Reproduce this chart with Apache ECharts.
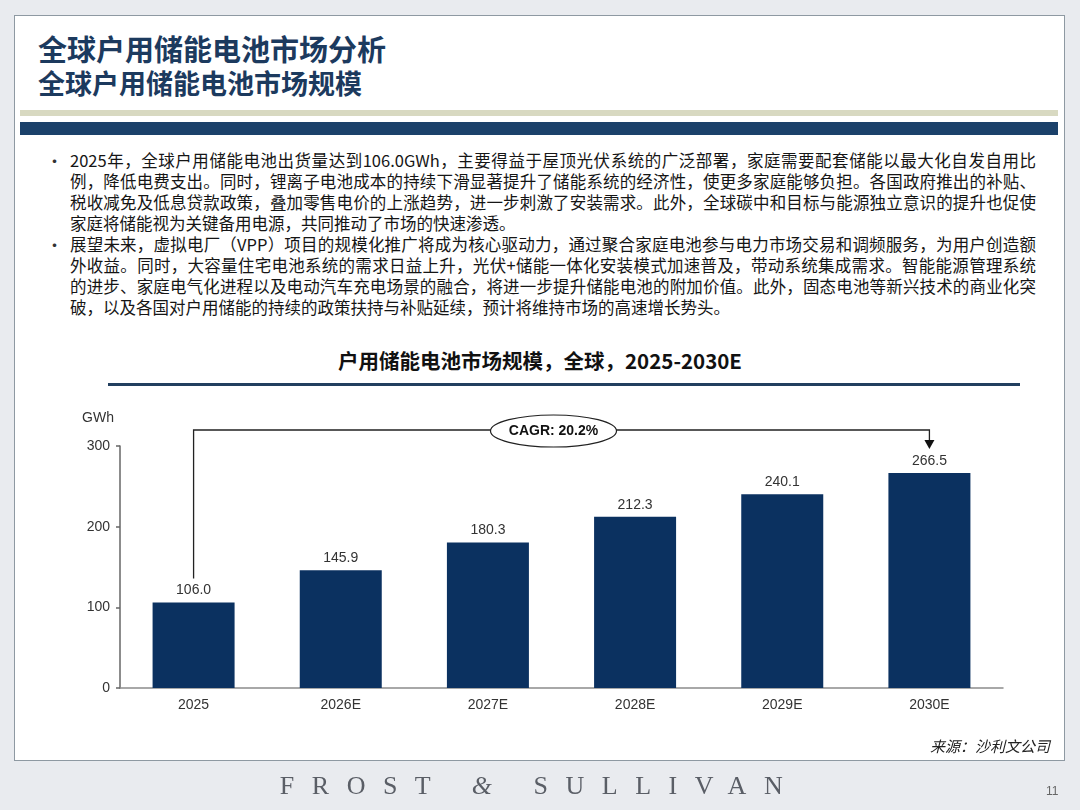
<!DOCTYPE html>
<html lang="zh-CN">

<head>
    <meta charset="UTF-8">
    <title>全球户用储能电池市场规模</title>
    <script src="https://cdn.jsdelivr.net/npm/echarts@6/dist/echarts.min.js"></script>
    <style>
        html, body {
            margin: 0;
            padding: 0;
        }
        body {
            width: 1080px;
            height: 810px;
            position: relative;
            overflow: hidden;
            background: #e9ebef;
            font-family: "Noto Sans CJK SC", sans-serif;
        }
        #panel {
            position: absolute;
            left: 14px;
            top: 15px;
            width: 1049px;
            height: 744px;
            background: #fff;
            border: 1px solid #8e99a2;
        }
        .title {
            position: absolute;
            left: 38px;
            color: #1c3a5e;
            font-weight: bold;
            white-space: nowrap;
        }
        .bar-beige {
            position: absolute;
            left: 20px;
            top: 110px;
            width: 1038px;
            height: 6px;
            background: #d8d9c1;
        }
        .bar-navy {
            position: absolute;
            left: 20px;
            top: 122px;
            width: 1038px;
            height: 13px;
            background: #1b416a;
        }
        .line {
            position: absolute;
            left: 70px;
            width: 966px;
            height: 21px;
            line-height: 21px;
            font-size: 16.5px;
            color: #151515;
            white-space: nowrap;
            text-align: justify;
            text-align-last: justify;
        }
        .line.last {
            text-align-last: left;
        }
        .bullet {
            position: absolute;
            left: 46px;
            font-size: 17px;
            line-height: 21px;
            color: #333;
        }
        #chart-title {
            position: absolute;
            left: 0;
            width: 1080px;
            top: 345px;
            text-align: center;
            font-size: 20.5px;
            font-weight: bold;
            color: #111;
        }
        #chart-rule {
            position: absolute;
            left: 108px;
            top: 383px;
            width: 912px;
            height: 3px;
            background: #223f5f;
        }
        #source {
            position: absolute;
            right: 30px;
            top: 735px;
            font-size: 15px;
            font-style: italic;
            color: #222;
        }
        #brand {
            position: absolute;
            left: 0;
            width: 1080px;
            top: 771px;
            text-align: center;
            font-family: "Liberation Serif", "DejaVu Serif", serif;
            font-size: 26px;
            letter-spacing: 17.5px;
            color: #5a5e66;
        }
        #brand .amp {
            font-style: italic;
        }
        #page-no {
            position: absolute;
            left: 1046px;
            top: 784px;
            font-family: "Liberation Sans", sans-serif;
            font-size: 12px;
            color: #666;
        }
        #chart-container {
            position: absolute;
            left: 0;
            top: 0;
            width: 1080px;
            height: 810px;
        }
    </style>
</head>

<body>

    <div id="panel"></div>

    <!-- Header -->
    <div class="title" style="top: 27px; font-size: 29px;">全球户用储能电池市场分析</div>
    <div class="title" style="top: 63px; font-size: 27px;">全球户用储能电池市场规模</div>
    <div class="bar-beige"></div>
    <div class="bar-navy"></div>

    <!-- Bullet text -->
    <div class="bullet" style="top: 150px;">•</div>
    <div class="line" style="top: 150px;">2025年，全球户用储能电池出货量达到106.0GWh，主要得益于屋顶光伏系统的广泛部署，家庭需要配套储能以最大化自发自用比</div>
    <div class="line" style="top: 171px;">例，降低电费支出。同时，锂离子电池成本的持续下滑显著提升了储能系统的经济性，使更多家庭能够负担。各国政府推出的补贴、</div>
    <div class="line" style="top: 192px;">税收减免及低息贷款政策，叠加零售电价的上涨趋势，进一步刺激了安装需求。此外，全球碳中和目标与能源独立意识的提升也促使</div>
    <div class="line last" style="top: 213px;">家庭将储能视为关键备用电源，共同推动了市场的快速渗透。</div>

    <div class="bullet" style="top: 234px;">•</div>
    <div class="line" style="top: 234px;">展望未来，虚拟电厂（VPP）项目的规模化推广将成为核心驱动力，通过聚合家庭电池参与电力市场交易和调频服务，为用户创造额</div>
    <div class="line" style="top: 255px;">外收益。同时，大容量住宅电池系统的需求日益上升，光伏+储能一体化安装模式加速普及，带动系统集成需求。智能能源管理系统</div>
    <div class="line" style="top: 276px;">的进步、家庭电气化进程以及电动汽车充电场景的融合，将进一步提升储能电池的附加价值。此外，固态电池等新兴技术的商业化突</div>
    <div class="line last" style="top: 297px;">破，以及各国对户用储能的持续的政策扶持与补贴延续，预计将维持市场的高速增长势头。</div>

    <!-- Chart -->
    <div id="chart-title">户用储能电池市场规模，全球，2025-2030E</div>
    <div id="chart-rule"></div>
    <div id="chart-container"></div>

    <div id="source">来源：沙利文公司</div>
    <div id="brand">FROST <span class="amp">&amp;</span> SULLIVAN</div>
    <div id="page-no">11</div>

    <script>
        // 数据
        const categories = ['2025', '2026E', '2027E', '2028E', '2029E', '2030E'];
        const marketSize = [106.0, 145.9, 180.3, 212.3, 240.1, 266.5];
        const unitName = 'GWh';
        const cagrText = 'CAGR: 20.2%';

        const chartContainer = document.getElementById('chart-container');
        const myChart = echarts.init(chartContainer, null, { renderer: 'canvas' });

        const axisFont = '"Liberation Sans", Arial, sans-serif';

        const option = {
            animation: false,
            grid: {
                left: 120,
                right: 77,
                top: 446,
                bottom: 122,
                containLabel: false
            },
            xAxis: {
                type: 'category',
                data: categories,
                axisLine: { lineStyle: { color: '#8c8c8c', width: 1.5 } },
                axisTick: { show: false },
                axisLabel: {
                    margin: 10,
                    fontSize: 14,
                    color: '#333',
                    fontFamily: axisFont
                }
            },
            yAxis: {
                type: 'value',
                min: 0,
                max: 300,
                interval: 100,
                name: unitName,
                nameLocation: 'end',
                nameGap: 21,
                nameTextStyle: {
                    fontSize: 14,
                    color: '#333',
                    fontFamily: axisFont,
                    padding: [0, 44, 0, 0]
                },
                splitLine: { show: false },
                axisLine: { show: true, lineStyle: { color: '#666', width: 1.5 } },
                axisTick: { show: true, length: 4, lineStyle: { color: '#666', width: 1.5 } },
                axisLabel: {
                    margin: 10,
                    fontSize: 14,
                    color: '#333',
                    fontFamily: axisFont
                }
            },
            series: [{
                type: 'bar',
                data: marketSize,
                barWidth: 82,
                itemStyle: { color: '#0b3160' },
                label: {
                    show: true,
                    position: 'top',
                    distance: 5,
                    fontSize: 14,
                    color: '#333',
                    fontFamily: axisFont,
                    formatter: p => p.value.toFixed(1)
                }
            }]
        };
        myChart.setOption(option);

        // CAGR 标注
        const first = myChart.convertToPixel({ gridIndex: 0 }, [categories[0], marketSize[0]]);
        const last = myChart.convertToPixel({ gridIndex: 0 }, [categories[categories.length - 1], marketSize[marketSize.length - 1]]);
        const lineY = option.grid.top - 16;
        const startY = first[1] - 24;
        const tipY = last[1] - 24;
        const midX = (first[0] + last[0]) / 2 - 8;

        myChart.setOption({
            graphic: [
                {
                    type: 'polyline',
                    shape: { points: [[first[0], startY], [first[0], lineY], [last[0], lineY], [last[0], tipY - 8]] },
                    style: { stroke: '#222', lineWidth: 1.3, fill: null }
                },
                {
                    type: 'polygon',
                    shape: { points: [[last[0] - 5, tipY - 9], [last[0] + 5, tipY - 9], [last[0], tipY]] },
                    style: { fill: '#111' }
                },
                {
                    type: 'ellipse',
                    shape: { cx: midX, cy: lineY + 1, rx: 63, ry: 16 },
                    style: { fill: '#fff', stroke: '#222', lineWidth: 1.2 }
                },
                {
                    type: 'text',
                    x: midX,
                    y: lineY + 1,
                    style: {
                        text: cagrText,
                        align: 'center',
                        verticalAlign: 'middle',
                        font: 'bold 14px "Liberation Sans", Arial, sans-serif',
                        fill: '#111'
                    }
                }
            ]
        });
    </script>
</body>

</html>
